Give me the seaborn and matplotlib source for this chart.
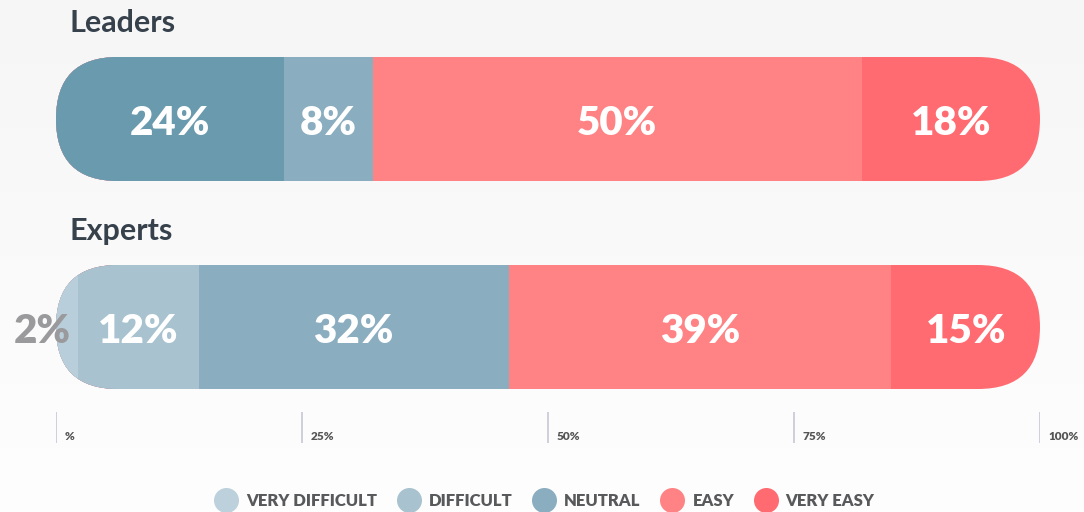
import numpy as np
import pandas as pd
import matplotlib
matplotlib.use("Agg")
import matplotlib.pyplot as plt
from matplotlib.patches import FancyBboxPatch
from matplotlib.transforms import IdentityTransform
from matplotlib.lines import Line2D
import seaborn as sns

# data
groups = ["Leaders", "Experts"]
leaders_share = [23.2, 9.0, 49.7, 18.1]
leaders_labels = ["24%", "8%", "50%", "18%"]
experts_share = [2.2, 12.3, 31.5, 38.9, 15.1]
experts_labels = ["2%", "12%", "32%", "39%", "15%"]
legend_names = ["VERY DIFFICULT", "DIFFICULT", "NEUTRAL", "EASY", "VERY EASY"]
tick_values = [0, 25, 50, 75, 100]
tick_labels = ["%", "25%", "50%", "75%", "100%"]

# colours
legend_colors = ["#bcd1db", "#a8c3cf", "#8aadc0", "#ff8385", "#ff6b70"]
leaders_colors = ["#6a9aae", "#8aadc0", "#ff8385", "#ff6b70"]
experts_colors = ["#b8ceda", "#a8c3cf", "#8aadc0", "#ff8385", "#ff6b70"]

sns.set_theme(style="white")
plt.rcParams["font.family"] = ["Lato", "DejaVu Sans"]

W, H = 1084, 512
fig = plt.figure(figsize=(W / 100, H / 100), dpi=100)

# background gradient
bg = fig.add_axes([0, 0, 1, 1], zorder=-5)
grad = np.linspace(0, 1, 256).reshape(-1, 1)
bg.imshow(grad, aspect="auto", cmap=matplotlib.colors.LinearSegmentedColormap.from_list(
    "bg", ["#f6f6f6", "#fefefe"]), extent=[0, 1, 0, 1])
bg.axis("off")

ax = fig.add_axes([56 / W, 0, 984 / W, 1])
bar_w = 124 / 208

series = {
    "Leaders": (leaders_share, leaders_labels, leaders_colors),
    "Experts": (experts_share, experts_labels, experts_colors),
}

for g in groups:
    share, labels, colors = series[g]
    cum = np.cumsum(share)
    # stacked by overlaying cumulative bars, longest first
    for end, c in reversed(list(zip(cum, colors))):
        df = pd.DataFrame({"group": [g], "value": [end]})
        sns.barplot(data=df, x="value", y="group", order=groups, color=c,
                    saturation=1, width=bar_w, orient="h", ax=ax, linewidth=0)

ax.set_xlim(0, 100)
ax.set_ylim((512 - 119) / 208, -119 / 208)
ax.axis("off")

# rounded ends: clip the bars with a pill shape in pixel space
for gi, g in enumerate(groups):
    x0, y0 = ax.transData.transform((0, gi + bar_w / 2))
    x1, y1 = ax.transData.transform((100, gi - bar_w / 2))
    r = (y1 - y0) / 2
    pill = FancyBboxPatch((x0, y0), x1 - x0, y1 - y0,
                          boxstyle=f"round,pad=0,rounding_size={r}",
                          transform=IdentityTransform())
    for p in ax.patches:
        yc = p.get_y() + p.get_height() / 2
        if abs(yc - gi) < 0.1:
            p.set_clip_path(pill)

# value labels
for gi, g in enumerate(groups):
    share, labels, colors = series[g]
    starts = np.concatenate([[0], np.cumsum(share)[:-1]])
    for s, v, lab in zip(starts, share, labels):
        if v < 4:
            ax.text(s - 1.4, gi + 0.02, lab, ha="center", va="center",
                    fontsize=29, fontweight="heavy", color="#9a9a9c")
        else:
            ax.text(s + v / 2, gi + 0.02, lab, ha="center", va="center",
                    fontsize=29, fontweight="heavy", color="white")
    fig.text(70 / W, 1 - (23 + gi * 208) / H, g, ha="left", va="center",
             fontsize=22, fontweight="bold", color="#36414c")

# percentage ticks
t0, t1 = (412 - 119) / 208, (443 - 119) / 208
ax.vlines(tick_values, t0, t1, color="#c8c8d6", lw=1.2)
for tv, tl in zip(tick_values, tick_labels):
    ax.text(tv + 0.9, (437 - 119) / 208, tl, ha="left", va="center",
            fontsize=8.5, fontweight="heavy", color="#555555")

# legend
handles = [Line2D([], [], marker="o", ls="", markersize=18, markerfacecolor=c,
                  markeredgewidth=0) for c in legend_colors]
fig.legend(handles, legend_names, loc="center", bbox_to_anchor=(0.5, 1 - 501 / H),
           ncol=5, frameon=False, handletextpad=0.2, columnspacing=0.9,
           prop={"weight": "heavy", "size": 12}, labelcolor="#58595b")

fig.savefig("out.png", dpi=100)
